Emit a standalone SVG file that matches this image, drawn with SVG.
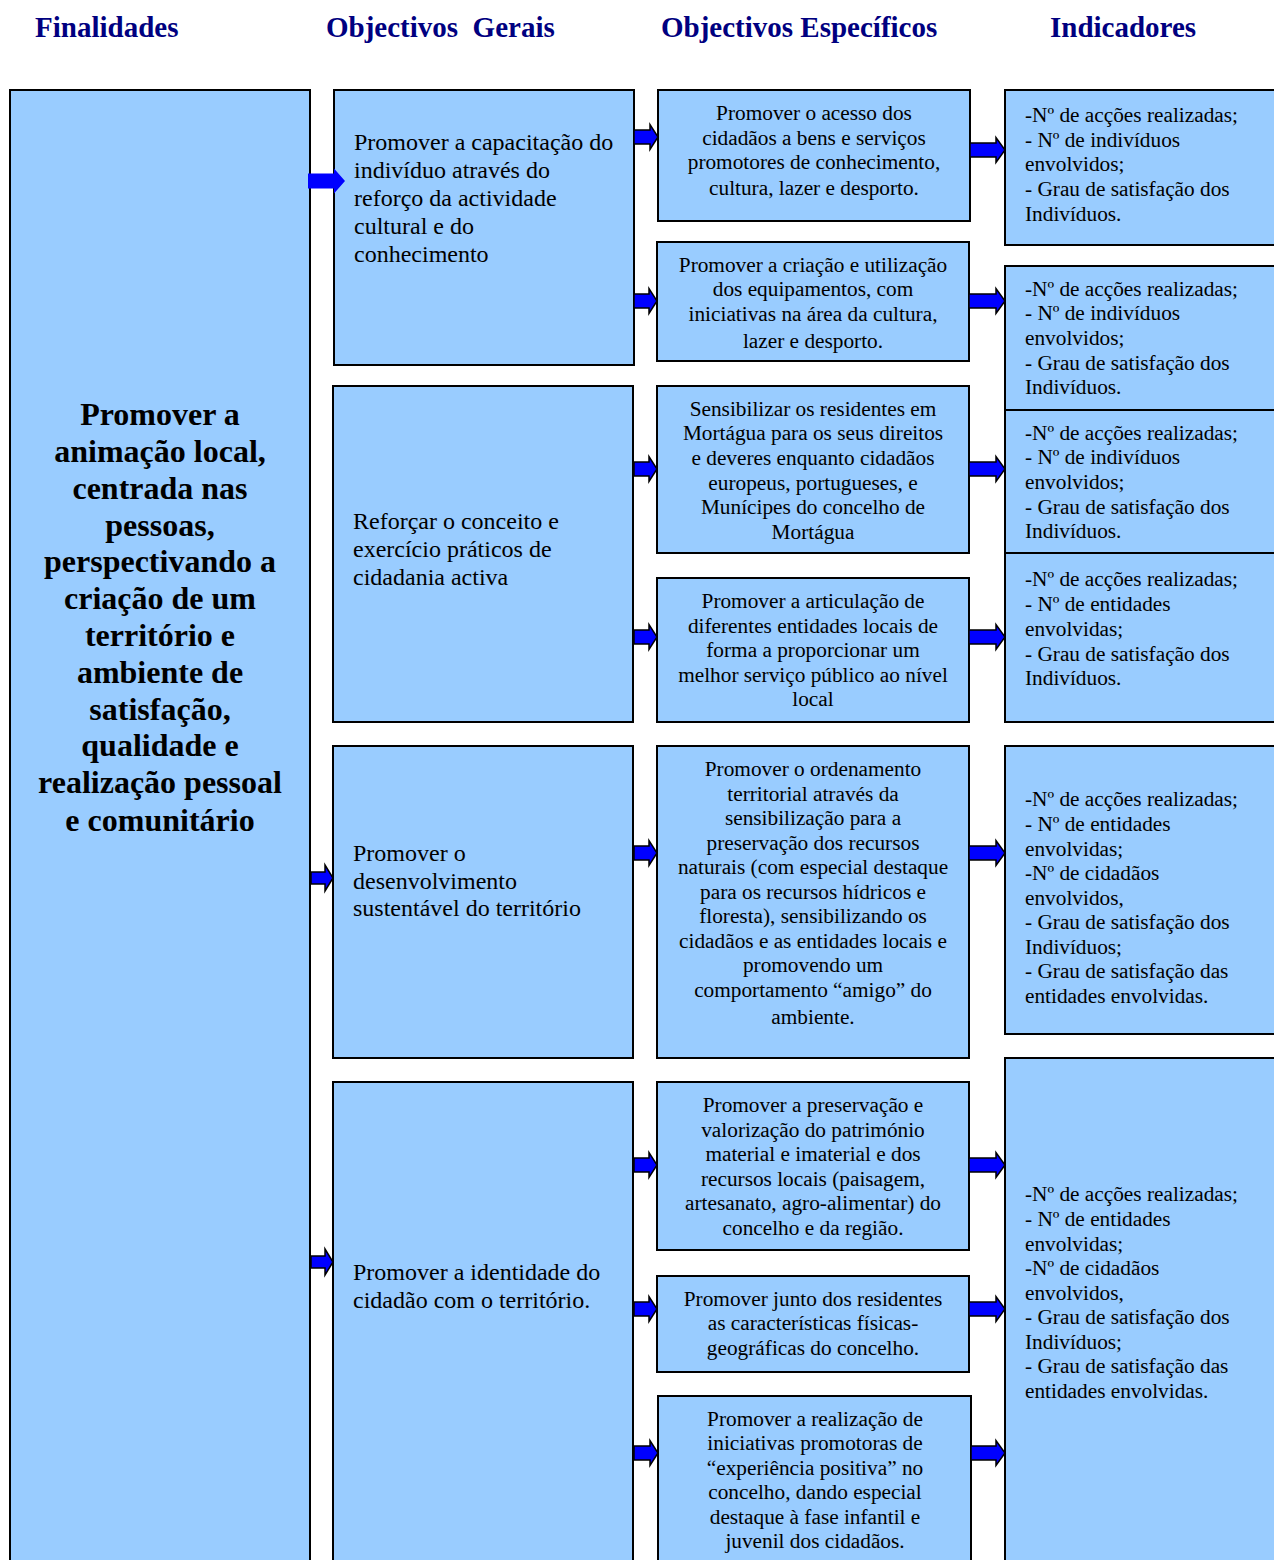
<svg xmlns="http://www.w3.org/2000/svg" width="1274" height="1560" viewBox="0 0 1274 1560">
<style>
.bx{fill:#99CCFF;stroke:#000;stroke-width:2}
.hd{font-family:"Liberation Serif","Times New Roman",serif;font-weight:bold;font-size:29px;fill:#000080}
.fin{font-family:"Liberation Serif","Times New Roman",serif;font-weight:bold;font-size:32px;fill:#000;text-anchor:middle}
.og{font-family:"Liberation Serif","Times New Roman",serif;font-size:24px;fill:#000}
.oe{font-family:"Liberation Serif","Times New Roman",serif;font-size:21.3px;fill:#000;text-anchor:middle}
.ind{font-family:"Liberation Serif","Times New Roman",serif;font-size:21.3px;fill:#000}
.ar{fill:#0000FF;stroke:#000;stroke-width:1.5;stroke-linejoin:miter}
</style>
<rect width="1274" height="1560" fill="#fff"/>
<g id="headers">
<text class="hd" x="35" y="37">Finalidades</text>
<text class="hd" x="326" y="37" xml:space="preserve">Objectivos  Gerais</text>
<text class="hd" x="661" y="37">Objectivos Específicos</text>
<text class="hd" x="1050" y="37">Indicadores</text>
</g>
<g id="finalidade">
<rect class="bx" x="10" y="90" width="300" height="1500"/>
<text class="fin" x="160"><tspan x="160" y="425">Promover a</tspan><tspan x="160" y="462">animação local,</tspan><tspan x="160" y="499">centrada nas</tspan><tspan x="160" y="536">pessoas,</tspan><tspan x="160" y="572">perspectivando a</tspan><tspan x="160" y="609">criação de um</tspan><tspan x="160" y="646">território e</tspan><tspan x="160" y="683">ambiente de</tspan><tspan x="160" y="720">satisfação,</tspan><tspan x="160" y="756">qualidade e</tspan><tspan x="160" y="793">realização pessoal</tspan><tspan x="160" y="831">e comunitário</tspan></text>
</g>
<g id="og1">
<rect class="bx" x="334" y="90" width="300" height="275"/>
<text class="og"><tspan x="354" y="150">Promover a capacitação do</tspan><tspan x="354" y="178">indivíduo através do</tspan><tspan x="354" y="206">reforço da actividade</tspan><tspan x="354" y="234">cultural e do</tspan><tspan x="354" y="262">conhecimento</tspan></text>
</g>
<g id="og2">
<rect class="bx" x="333" y="386" width="300" height="336"/>
<text class="og"><tspan x="353" y="529">Reforçar o conceito e</tspan><tspan x="353" y="557">exercício práticos de</tspan><tspan x="353" y="585">cidadania activa</tspan></text>
</g>
<g id="og3">
<rect class="bx" x="333" y="746" width="300" height="312"/>
<text class="og"><tspan x="353" y="861">Promover o</tspan><tspan x="353" y="889">desenvolvimento</tspan><tspan x="353" y="916">sustentável do território</tspan></text>
</g>
<g id="og4">
<rect class="bx" x="333" y="1082" width="300" height="510"/>
<text class="og"><tspan x="353" y="1280">Promover a identidade do</tspan><tspan x="353" y="1308">cidadão com o território.</tspan></text>
</g>
<g id="oe1">
<rect class="bx" x="658" y="90" width="312" height="131"/>
<text class="oe"><tspan x="814" y="120">Promover o acesso dos</tspan><tspan x="814" y="145">cidadãos a bens e serviços</tspan><tspan x="814" y="169">promotores de conhecimento,</tspan><tspan x="814" y="195">cultura, lazer e desporto.</tspan></text>
</g>
<g id="oe2">
<rect class="bx" x="657" y="242" width="312" height="119"/>
<text class="oe"><tspan x="813" y="272">Promover a criação e utilização</tspan><tspan x="813" y="296">dos equipamentos, com</tspan><tspan x="813" y="321">iniciativas na área da cultura,</tspan><tspan x="813" y="348">lazer e desporto.</tspan></text>
</g>
<g id="oe3">
<rect class="bx" x="657" y="386" width="312" height="167"/>
<text class="oe"><tspan x="813" y="416">Sensibilizar os residentes em</tspan><tspan x="813" y="440">Mortágua para os seus direitos</tspan><tspan x="813" y="465">e deveres enquanto cidadãos</tspan><tspan x="813" y="490">europeus, portugueses, e</tspan><tspan x="813" y="514">Munícipes do concelho de</tspan><tspan x="813" y="539">Mortágua</tspan></text>
</g>
<g id="oe4">
<rect class="bx" x="657" y="578" width="312" height="144"/>
<text class="oe"><tspan x="813" y="608">Promover a articulação de</tspan><tspan x="813" y="633">diferentes entidades locais de</tspan><tspan x="813" y="657">forma a proporcionar um</tspan><tspan x="813" y="682">melhor serviço público ao nível</tspan><tspan x="813" y="706">local</tspan></text>
</g>
<g id="oe5">
<rect class="bx" x="657" y="746" width="312" height="312"/>
<text class="oe"><tspan x="813" y="776">Promover o ordenamento</tspan><tspan x="813" y="801">territorial através da</tspan><tspan x="813" y="825">sensibilização para a</tspan><tspan x="813" y="850">preservação dos recursos</tspan><tspan x="813" y="874">naturais (com especial destaque</tspan><tspan x="813" y="899">para os recursos hídricos e</tspan><tspan x="813" y="923">floresta), sensibilizando os</tspan><tspan x="813" y="948">cidadãos e as entidades locais e</tspan><tspan x="813" y="972">promovendo um</tspan><tspan x="813" y="997">comportamento “amigo” do</tspan><tspan x="813" y="1024">ambiente.</tspan></text>
</g>
<g id="oe6">
<rect class="bx" x="657" y="1082" width="312" height="168"/>
<text class="oe"><tspan x="813" y="1112">Promover a preservação e</tspan><tspan x="813" y="1137">valorização do património</tspan><tspan x="813" y="1161">material e imaterial e dos</tspan><tspan x="813" y="1186">recursos locais (paisagem,</tspan><tspan x="813" y="1210">artesanato, agro-alimentar) do</tspan><tspan x="813" y="1235">concelho e da região.</tspan></text>
</g>
<g id="oe7">
<rect class="bx" x="657" y="1276" width="312" height="96"/>
<text class="oe"><tspan x="813" y="1306">Promover junto dos residentes</tspan><tspan x="813" y="1330">as características físicas-</tspan><tspan x="813" y="1355">geográficas do concelho.</tspan></text>
</g>
<g id="oe8">
<rect class="bx" x="658" y="1396" width="313" height="200"/>
<text class="oe"><tspan x="815" y="1426">Promover a realização de</tspan><tspan x="815" y="1450">iniciativas promotoras de</tspan><tspan x="815" y="1475">“experiência positiva” no</tspan><tspan x="815" y="1499">concelho, dando especial</tspan><tspan x="815" y="1524">destaque à fase infantil e</tspan><tspan x="815" y="1548">juvenil dos cidadãos.</tspan></text>
</g>
<g id="ind1">
<rect class="bx" x="1005" y="90" width="290" height="155"/>
<text class="ind"><tspan x="1025" y="122">-Nº de acções realizadas;</tspan><tspan x="1025" y="147">- Nº de indivíduos</tspan><tspan x="1025" y="171">envolvidos;</tspan><tspan x="1025" y="196">- Grau de satisfação dos</tspan><tspan x="1025" y="221">Indivíduos.</tspan></text>
</g>
<g id="ind2">
<rect class="bx" x="1005" y="266" width="290" height="144"/>
<text class="ind"><tspan x="1025" y="296">-Nº de acções realizadas;</tspan><tspan x="1025" y="320">- Nº de indivíduos</tspan><tspan x="1025" y="345">envolvidos;</tspan><tspan x="1025" y="370">- Grau de satisfação dos</tspan><tspan x="1025" y="394">Indivíduos.</tspan></text>
</g>
<g id="ind3">
<rect class="bx" x="1005" y="410" width="290" height="143"/>
<text class="ind"><tspan x="1025" y="440">-Nº de acções realizadas;</tspan><tspan x="1025" y="464">- Nº de indivíduos</tspan><tspan x="1025" y="489">envolvidos;</tspan><tspan x="1025" y="514">- Grau de satisfação dos</tspan><tspan x="1025" y="538">Indivíduos.</tspan></text>
</g>
<g id="ind4">
<rect class="bx" x="1005" y="553" width="290" height="169"/>
<text class="ind"><tspan x="1025" y="586">-Nº de acções realizadas;</tspan><tspan x="1025" y="611">- Nº de entidades</tspan><tspan x="1025" y="636">envolvidas;</tspan><tspan x="1025" y="661">- Grau de satisfação dos</tspan><tspan x="1025" y="685">Indivíduos.</tspan></text>
</g>
<g id="ind5">
<rect class="bx" x="1005" y="746" width="290" height="288"/>
<text class="ind"><tspan x="1025" y="806">-Nº de acções realizadas;</tspan><tspan x="1025" y="831">- Nº de entidades</tspan><tspan x="1025" y="856">envolvidas;</tspan><tspan x="1025" y="880">-Nº de cidadãos</tspan><tspan x="1025" y="905">envolvidos,</tspan><tspan x="1025" y="929">- Grau de satisfação dos</tspan><tspan x="1025" y="954">Indivíduos;</tspan><tspan x="1025" y="978">- Grau de satisfação das</tspan><tspan x="1025" y="1003">entidades envolvidas.</tspan></text>
</g>
<g id="ind6">
<rect class="bx" x="1005" y="1058" width="290" height="540"/>
<text class="ind"><tspan x="1025" y="1201">-Nº de acções realizadas;</tspan><tspan x="1025" y="1226">- Nº de entidades</tspan><tspan x="1025" y="1251">envolvidas;</tspan><tspan x="1025" y="1275">-Nº de cidadãos</tspan><tspan x="1025" y="1300">envolvidos,</tspan><tspan x="1025" y="1324">- Grau de satisfação dos</tspan><tspan x="1025" y="1349">Indivíduos;</tspan><tspan x="1025" y="1373">- Grau de satisfação das</tspan><tspan x="1025" y="1398">entidades envolvidas.</tspan></text>
</g>
<g id="connectors">
<path d="M308 173.5H334V168.5L345 181L334 193.5V188.5H308Z" fill="#0000FF"/>
<path class="ar" d="M311 872H325V865L333 878L325 891V884H311Z"/>
<path class="ar" d="M311 1256H325V1249L333 1262L325 1275V1268H311Z"/>
<path class="ar" d="M634 130H650V124.5L658 137L650 149.5V144H634Z"/>
<path class="ar" d="M634 294H649V288.5L657 301L649 313.5V308H634Z"/>
<path class="ar" d="M634 462H649V456.5L657 469L649 481.5V476H634Z"/>
<path class="ar" d="M634 630H649V624.5L657 637L649 649.5V644H634Z"/>
<path class="ar" d="M634 846H649V840.5L657 853L649 865.5V860H634Z"/>
<path class="ar" d="M634 1158H649V1152.5L657 1165L649 1177.5V1172H634Z"/>
<path class="ar" d="M634 1302H649V1296.5L657 1309L649 1321.5V1316H634Z"/>
<path class="ar" d="M634 1446H650V1440.5L658 1453L650 1465.5V1460H634Z"/>
<path class="ar" d="M970 143H996V137.5L1005 150L996 162.5V157H970Z"/>
<path class="ar" d="M969 294H996V288.5L1005 301L996 313.5V308H969Z"/>
<path class="ar" d="M969 462H996V456.5L1005 469L996 481.5V476H969Z"/>
<path class="ar" d="M969 630H996V624.5L1005 637L996 649.5V644H969Z"/>
<path class="ar" d="M969 846H996V840.5L1005 853L996 865.5V860H969Z"/>
<path class="ar" d="M969 1158H996V1152.5L1005 1165L996 1177.5V1172H969Z"/>
<path class="ar" d="M969 1302H996V1296.5L1005 1309L996 1321.5V1316H969Z"/>
<path class="ar" d="M971 1446H996V1440.5L1005 1453L996 1465.5V1460H971Z"/>
</g>
</svg>
